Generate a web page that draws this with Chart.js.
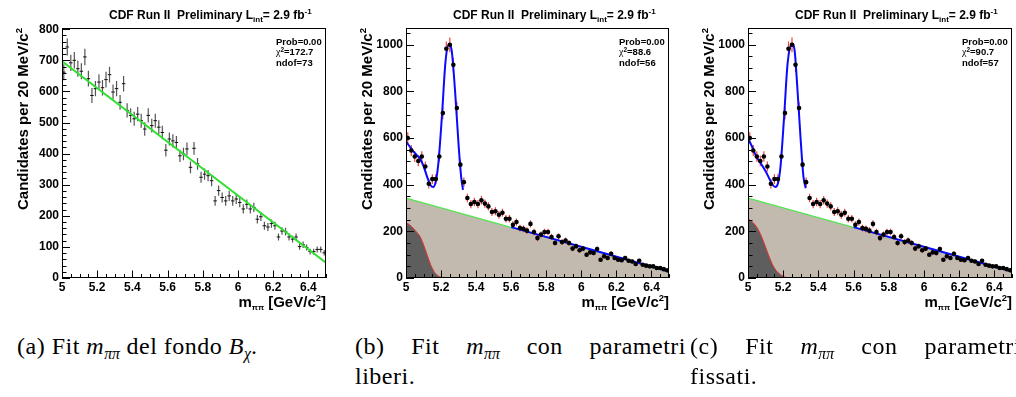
<!DOCTYPE html>
<html>
<head>
<meta charset="utf-8">
<script src="https://cdn.jsdelivr.net/npm/chart.js@4.4.1/dist/chart.umd.min.js"></script>
<style>
  html, body { margin: 0; padding: 0; background: #fff; }
  body { position: relative; width: 1016px; height: 397px; overflow: hidden; }
  canvas { position: absolute; top: 0; }
  .cap { position: absolute; font-family: "Liberation Serif", "Times New Roman", serif;
         font-size: 24px; letter-spacing: 0.5px; line-height: 30px; color: #000; white-space: nowrap; }
  .cap sub { font-size: 66%; vertical-align: -0.3em; line-height: 0; letter-spacing: 0; }
  .just { width: 331px; text-align: justify; text-align-last: justify; white-space: normal; }
</style>
</head>
<body>
<canvas id="pa" width="336" height="313" style="left:0px"></canvas>
<canvas id="pb" width="340" height="313" style="left:340px"></canvas>
<canvas id="pc" width="340" height="313" style="left:676px"></canvas>

<div class="cap" style="left:17px; top:331px;">(a) Fit <i>m</i><sub><i>ππ</i></sub> del fondo <i>B</i><sub><i>χ</i></sub>.</div>
<div class="cap just" style="left:355px; top:331px;">(b) Fit <i>m</i><sub><i>ππ</i></sub> con parametri</div>
<div class="cap" style="left:355px; top:361px;">liberi.</div>
<div class="cap just" style="left:690px; top:331px;">(c) Fit <i>m</i><sub><i>ππ</i></sub> con parametri</div>
<div class="cap" style="left:690px; top:361px;">fissati.</div>

<script>
// ---- bins: 20 MeV/c^2 wide, 5.0 - 6.5 GeV/c^2 ----
const binCenters = [
  5.01,5.03,5.05,5.07,5.09,5.11,5.13,5.15,5.17,5.19,
  5.21,5.23,5.25,5.27,5.29,5.31,5.33,5.35,5.37,5.39,
  5.41,5.43,5.45,5.47,5.49,5.51,5.53,5.55,5.57,5.59,
  5.61,5.63,5.65,5.67,5.69,5.71,5.73,5.75,5.77,5.79,
  5.81,5.83,5.85,5.87,5.89,5.91,5.93,5.95,5.97,5.99,
  6.01,6.03,6.05,6.07,6.09,6.11,6.13,6.15,6.17,6.19,
  6.21,6.23,6.25,6.27,6.29,6.31,6.33,6.35,6.37,6.39,
  6.41,6.43,6.45,6.47,6.49
];

// B_chi background sample (panel a)
const bkgCounts = [
  662,743,692,700,673,665,711,641,587,609,
  630,612,638,654,598,609,565,625,539,523,
  512,527,506,479,523,490,506,485,468,411,
  447,441,436,393,399,415,356,417,367,324,
  334,329,313,248,281,259,248,264,248,254,
  243,222,237,222,227,189,197,168,164,175,
  168,132,151,149,132,125,132,101,107,98,
  85,85,92,92,81
];

// m_pipi signal sample (panels b, c)
const sigCounts = [
  600,547,521,502,521,478,404,424,424,521,
  707,983,1000,914,729,486,411,343,317,326,
  317,333,319,307,283,286,271,280,254,254,
  228,240,214,211,203,232,197,171,186,197,
  197,176,150,179,154,161,150,126,136,119,
  126,100,110,107,124,78,93,86,104,86,
  78,76,86,74,71,60,74,57,53,50,
  50,43,43,38,33
];

// linear fit of the background sample
const bkgFitX = [5.0, 6.5];
const bkgFitY = [697, 49];

// combinatorial background component (b, c)
const combX = [5.0, 6.5];
const combY = [343, 28];

// partially reconstructed component
const partX_b = [5.00,5.02,5.04,5.06,5.08,5.10,5.12,5.14,5.16,5.18,5.20,5.22];
const partY_b = [238,228,214,197,178,143,100,58,28,11,3,0];
const partX_c = [5.00,5.02,5.04,5.06,5.08,5.10,5.12,5.14,5.16,5.18,5.20,5.22,5.24];
const partY_c = [254,243,228,205,172,132,92,56,32,17,7,2,0];

// total fit, peak region and sideband
const totX_b = [5.00,5.02,5.04,5.06,5.08,5.10,5.12,5.14,5.155,5.17,5.185,5.205,5.225,5.245,5.26,5.28,5.30,5.315,5.325];
const totY_b = [585,565,545,528,512,480,435,398,390,415,495,695,925,1002,978,800,570,430,378];
const totX_c = [5.00,5.02,5.04,5.06,5.08,5.10,5.12,5.14,5.155,5.17,5.185,5.205,5.225,5.25,5.265,5.28,5.30,5.315,5.328];
const totY_c = [598,568,532,505,483,458,428,400,390,405,480,690,920,1005,975,820,585,435,385];
const tailX = [5.6, 6.5];
const tailY = [218, 28];

// axis ticks
const xMajor = [5.0,5.2,5.4,5.6,5.8,6.0,6.2,6.4];
const xMajorLabels = ['5','5.2','5.4','5.6','5.8','6','6.2','6.4'];
const xMinorStep = 0.05;
const yMajorA = [0,100,200,300,400,500,600,700,800];
const yMajorLabelsA = ['0','100','200','300','400','500','600','700','800'];
const yMinorStepA = 20;
const yMajorB = [0,200,400,600,800,1000];
const yMajorLabelsB = ['0','200','400','600','800','1000'];
const yMinorStepB = 50;

// fit statistics
const statsA = ['0.00', '172.7', '73'];
const statsB = ['0.00', '88.6', '56'];
const statsC = ['0.00', '90.7', '57'];

const SANS = '"Liberation Sans", Arial, Helvetica, sans-serif';
Chart.defaults.font.family = SANS;
Chart.defaults.color = '#000';

function tickValues(lo, hi, step) {
  const out = [];
  const n = Math.round((hi - lo) / step);
  for (let k = 0; k <= n; k++) out.push(+(lo + k * step).toFixed(4));
  return out;
}
function labelFor(v, majors, labels) {
  for (let i = 0; i < majors.length; i++) if (Math.abs(majors[i] - v) < 1e-6) return labels[i];
  return '';
}
function pairs(xs, ys) { return xs.map((x, i) => ({ x: x, y: ys[i] })); }
function vErr(xs, ys) {
  const pts = [];
  xs.forEach((x, i) => {
    const e = Math.sqrt(ys[i]);
    pts.push({ x: x, y: ys[i] - e }, { x: x, y: ys[i] + e }, { x: x, y: null });
  });
  return pts;
}
function hErr(xs, ys, half) {
  const pts = [];
  xs.forEach((x, i) => { pts.push({ x: x - half, y: ys[i] }, { x: x + half, y: ys[i] }, { x: x, y: null }); });
  return pts;
}

// text drawn in runs of mixed size (sub/superscripts)
function measureRuns(ctx, runs) {
  let w = 0;
  runs.forEach(r => { ctx.font = r.f; w += ctx.measureText(r.t).width; });
  return w;
}
function drawRuns(ctx, x, y, runs) {
  runs.forEach(r => { ctx.font = r.f; ctx.fillText(r.t, x, y + (r.dy || 0)); x += ctx.measureText(r.t).width; });
}

const B = s => 'bold ' + s + 'px ' + SANS;
const titleRuns = [
  { t: 'CDF Run II  Preliminary L', f: B(12) },
  { t: 'int', f: B(8), dy: 3.5 },
  { t: '= 2.9 fb', f: B(12) },
  { t: '-1', f: B(8), dy: -5 }
];
const xTitleRuns = [
  { t: 'm', f: B(15) },
  { t: 'ππ', f: B(8), dy: 3 },
  { t: ' [GeV/c', f: B(15) },
  { t: '2', f: B(9.5), dy: -6.5 },
  { t: ']', f: B(15) }
];
const yTitleRuns = [
  { t: 'Candidates per 20 MeV/c', f: B(15) },
  { t: '2', f: B(9.5), dy: -6.5 }
];

const rootFrame = {
  id: 'rootFrame',
  afterDatasetsDraw(chart) {
    const { ctx, chartArea: a, scales } = chart;
    ctx.save();
    ctx.strokeStyle = '#000';
    ctx.lineWidth = 1;
    ctx.beginPath();
    scales.x.ticks.forEach(t => {
      const px = Math.round(scales.x.getPixelForValue(t.value)) + 0.5;
      const len = t.label ? 7.5 : 4;
      ctx.moveTo(px, a.bottom); ctx.lineTo(px, a.bottom - len);
    });
    scales.y.ticks.forEach(t => {
      const py = Math.round(scales.y.getPixelForValue(t.value)) + 0.5;
      const len = t.label ? 8 : 4.5;
      ctx.moveTo(a.left, py); ctx.lineTo(a.left + len, py);
    });
    ctx.stroke();
    ctx.strokeRect(Math.round(a.left) + 0.5, Math.round(a.top) + 0.5,
                   Math.round(a.right - a.left) - 1, Math.round(a.bottom - a.top) - 1);
    ctx.restore();
  }
};

const rootText = {
  id: 'rootText',
  afterDraw(chart) {
    const { ctx, chartArea: a } = chart;
    const st = chart.options.plugins.rootText.stats;
    ctx.save();
    ctx.fillStyle = '#000';
    ctx.textAlign = 'left';
    ctx.textBaseline = 'alphabetic';
    drawRuns(ctx, a.left + 47, 18.5, titleRuns);
    const sx = a.right - 50;
    drawRuns(ctx, sx, a.top + 16.5, [{ t: 'Prob=' + st[0], f: B(9.5) }]);
    drawRuns(ctx, sx, a.top + 27, [
      { t: 'χ', f: '10px "Liberation Serif", serif' },
      { t: '2', f: B(6.5), dy: -3.5 },
      { t: '=' + st[1], f: B(9.5) }
    ]);
    drawRuns(ctx, sx, a.top + 37.5, [{ t: 'ndof=' + st[2], f: B(9.5) }]);
    const wx = measureRuns(ctx, xTitleRuns);
    drawRuns(ctx, a.right - wx, 307, xTitleRuns);
    ctx.translate(a.left - 34, a.top);
    ctx.rotate(-Math.PI / 2);
    const wy = measureRuns(ctx, yTitleRuns);
    drawRuns(ctx, -wy, 0, yTitleRuns);
    ctx.restore();
  }
};

function makeChart(id, p) {
  const xt = tickValues(5.0, 6.5, xMinorStep);
  const yt = tickValues(0, p.yTickTop, p.yStep);
  return new Chart(document.getElementById(id), {
    type: 'line',
    data: { datasets: p.datasets },
    options: {
      responsive: false,
      animation: false,
      events: [],
      layout: { padding: { left: 0, top: 28, right: p.padR, bottom: 0 } },
      plugins: {
        legend: { display: false },
        tooltip: { enabled: false },
        rootText: { stats: p.stats },
        rootFrame: {}
      },
      elements: { point: { radius: 0 } },
      scales: {
        x: {
          type: 'linear', min: 5.0, max: 6.5,
          afterBuildTicks: s => { s.ticks = xt.map(v => ({ value: v })); },
          afterFit: s => { s.height = 35; },
          grid: { display: false, drawTicks: false },
          border: { display: false },
          ticks: {
            autoSkip: false, maxRotation: 0, minRotation: 0, padding: 2,
            font: { size: 12, weight: 'bold' }, color: '#000',
            callback: v => labelFor(v, xMajor, xMajorLabels)
          }
        },
        y: {
          type: 'linear', min: 0, max: p.yMax,
          afterBuildTicks: s => { s.ticks = yt.map(v => ({ value: v })); },
          afterFit: s => { s.width = p.yW; },
          grid: { display: false, drawTicks: false },
          border: { display: false },
          ticks: {
            autoSkip: false, padding: 3,
            font: { size: 12, weight: 'bold' }, color: '#000',
            callback: v => labelFor(v, p.yMajor, p.yLabels)
          }
        }
      }
    },
    plugins: [rootFrame, rootText]
  });
}

const lineDs = (data, color, width, order, extra) => Object.assign({
  data: data, borderColor: color, borderWidth: width, pointRadius: 0,
  fill: false, spanGaps: false, order: order
}, extra || {});

// panel (a): background fit
makeChart('pa', {
  yMax: 804, yTickTop: 800, yStep: yMinorStepA, yMajor: yMajorA, yLabels: yMajorLabelsA,
  yW: 62, padR: 10, stats: statsA,
  datasets: [
    lineDs(pairs(bkgFitX, bkgFitY), '#2fe02f', 2, 0),
    lineDs(hErr(binCenters, bkgCounts, 0.01), '#111', 1, 1),
    lineDs(vErr(binCenters, bkgCounts), '#555', 1.2, 2)
  ]
});

function signalPanel(id, partX, partY, totX, totY, yW, padR, stats) {
  const totalPts = pairs(totX, totY).concat([{ x: 5.46, y: null }], pairs(tailX, tailY));
  makeChart(id, {
    yMax: 1072, yTickTop: 1050, yStep: yMinorStepB, yMajor: yMajorB, yLabels: yMajorLabelsB,
    yW: yW, padR: padR, stats: stats,
    datasets: [
      { data: pairs(binCenters, sigCounts), showLine: false, pointRadius: 2.3,
        pointBackgroundColor: '#000', pointBorderWidth: 0, borderColor: '#000', order: 0 },
      lineDs(totalPts, '#0a0aff', 2, 1, { cubicInterpolationMode: 'monotone' }),
      lineDs(vErr(binCenters, sigCounts), '#f04040', 1.2, 2),
      lineDs(pairs(partX, partY), '#e83030', 1, 3,
        { fill: 'origin', backgroundColor: '#5e5e5e', cubicInterpolationMode: 'monotone' }),
      lineDs(pairs(combX, combY), '#50e850', 1.2, 4,
        { fill: 'origin', backgroundColor: '#c2b9af' })
    ]
  });
}

signalPanel('pb', partX_b, partY_b, totX_b, totY_b, 66, 11, statsB);
signalPanel('pc', partX_c, partY_c, totX_c, totY_c, 72, 4, statsC);
</script>
</body>
</html>
